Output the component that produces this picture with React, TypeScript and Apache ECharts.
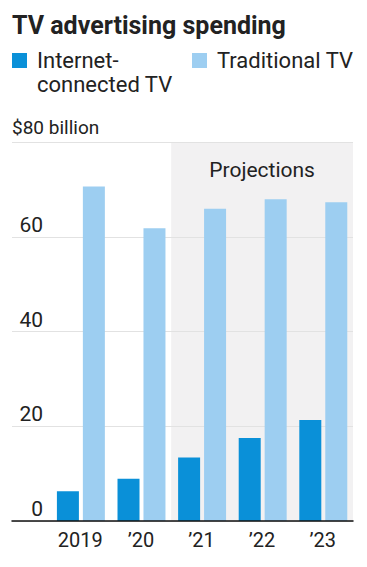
import React, { useEffect, useRef } from "react";
import * as echarts from "echarts";

const categories = ["2019", "’20", "’21", "’22", "’23"];
const internetTV = [6.3, 8.9, 13.4, 17.5, 21.3];
const traditionalTV = [70.6, 61.8, 65.9, 67.9, 67.3];
const projectionStart = "’21";
const yTicks = { min: 0, max: 80, interval: 20 };
const topTickLabel = "$80 billion";
const titleText = "TV advertising spending";
const seriesNames = ["Internet-connected TV", "Traditional TV"];

const FONT = "Roboto";
const DARK = "#0a90d8";
const LIGHT = "#9dcef1";
const TEXT = "#222";

export default function App() {
  const ref = useRef<HTMLDivElement>(null);
  useEffect(() => {
    const chart = echarts.init(ref.current!, null, { renderer: "svg" });
    const legendText = {
      fontFamily: FONT,
      fontSize: 22,
      color: TEXT,
      lineHeight: 24,
      padding: [0, 0, 0, 5],
    };
    chart.setOption({
      animation: false,
      textStyle: { fontFamily: FONT },
      title: {
        text: titleText,
        left: 12,
        top: 13,
        padding: 0,
        textStyle: { fontFamily: FONT, fontSize: 25, fontWeight: "bold", color: TEXT },
      },
      legend: [
        {
          data: [seriesNames[0]],
          left: 12,
          top: 24.5,
          padding: 0,
          itemWidth: 15,
          itemHeight: 15,
          icon: "rect",
          formatter: () => "\u00a0\nInternet-\nconnected TV",
          textStyle: legendText,
          selectedMode: false,
        },
        {
          data: [seriesNames[1]],
          left: 192,
          top: 48.5,
          padding: 0,
          itemWidth: 15,
          itemHeight: 15,
          icon: "rect",
          textStyle: legendText,
          selectedMode: false,
        },
      ],
      grid: [
        { left: 12, right: 14, top: 142, bottom: 46 },
        { left: 50, right: 14, top: 142, bottom: 46 },
      ],
      xAxis: [
        {
          gridIndex: 0,
          type: "value",
          min: 0,
          max: 1,
          z: 3,
          axisLine: { show: true, lineStyle: { color: "#111", width: 1.5 } },
          axisTick: { show: false },
          axisLabel: { show: false },
          splitLine: { show: false },
        },
        {
          gridIndex: 1,
          type: "category",
          data: categories,
          axisLine: { show: false },
          axisTick: { show: false },
          axisLabel: {
            interval: 0,
            fontFamily: FONT,
            fontSize: 20,
            color: TEXT,
            margin: 9,
          },
        },
      ],
      yAxis: [
        {
          gridIndex: 0,
          type: "value",
          min: yTicks.min,
          max: yTicks.max,
          interval: yTicks.interval,
          z: 1.5,
          axisLine: { show: false },
          axisTick: { show: false },
          splitLine: { show: true, lineStyle: { color: "#e2e2e2", width: 1 } },
          axisLabel: {
            inside: true,
            align: "right",
            verticalAlign: "bottom",
            margin: 31,
            fontFamily: FONT,
            fontSize: 21,
            color: TEXT,
            lineHeight: 24,
            formatter: (v: number) => (v === yTicks.max ? "" : String(v)),
          },
        },
        {
          gridIndex: 1,
          type: "value",
          min: yTicks.min,
          max: yTicks.max,
          interval: yTicks.interval,
          show: false,
          splitLine: { show: false },
        },
      ],
      graphic: [
        {
          type: "text",
          left: 12,
          top: 118,
          style: { text: topTickLabel, font: `19px ${FONT}`, fill: TEXT },
        },
      ],
      series: [
        {
          type: "bar",
          xAxisIndex: 1,
          yAxisIndex: 1,
          data: [],
          z: 0,
          markArea: {
            silent: true,
            itemStyle: { color: "#f2f1f2" },
            label: {
              show: true,
              position: "insideTop",
              distance: 17,
              formatter: "Projections",
              fontFamily: FONT,
              fontSize: 21,
              color: TEXT,
            },
            data: [[{ xAxis: projectionStart }, {}]],
          },
        },
        {
          name: seriesNames[0],
          type: "bar",
          xAxisIndex: 1,
          yAxisIndex: 1,
          data: internetTV,
          barWidth: 22,
          barGap: "18%",
          z: 2,
          itemStyle: { color: DARK },
        },
        {
          name: seriesNames[1],
          type: "bar",
          xAxisIndex: 1,
          yAxisIndex: 1,
          data: traditionalTV,
          barWidth: 22,
          barGap: "18%",
          z: 2,
          itemStyle: { color: LIGHT },
        },
      ],
    });
    return () => chart.dispose();
  }, []);
  return (
    <div
      ref={ref}
      style={{ position: "fixed", left: 0, top: 0, width: 367, height: 567, background: "#fff" }}
    />
  );
}
